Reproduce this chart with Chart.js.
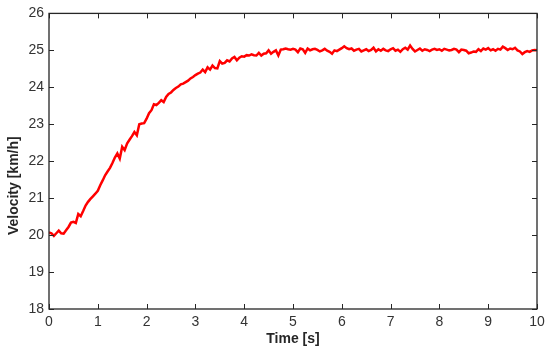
<!DOCTYPE html>
<html>
<head>
<meta charset="utf-8">
<script src="https://cdn.jsdelivr.net/npm/chart.js@4/dist/chart.umd.min.js"></script>
<style>
  body { margin: 0; background: #fff; }
  canvas { display: block; }
</style>
</head>
<body>
<canvas id="chart" width="550" height="353"></canvas>
<script>
// sample spacing in seconds
const timeStep = 0.05;

// velocity samples [km/h], one every timeStep
const velocity = [
  20.07, 20.05, 19.98, 20.05, 20.12, 20.05, 20.04, 20.13, 20.22, 20.34,
  20.36, 20.33, 20.57, 20.51, 20.65, 20.80, 20.90, 20.98, 21.05, 21.12,
  21.20, 21.35, 21.48, 21.62, 21.72, 21.82, 21.95, 22.10, 22.21, 22.07,
  22.39, 22.30, 22.48, 22.58, 22.68, 22.79, 22.70, 23.00, 23.02, 23.03,
  23.15, 23.30, 23.38, 23.54, 23.52, 23.58, 23.65, 23.60, 23.74, 23.82,
  23.86, 23.93, 23.98, 24.02, 24.08, 24.10, 24.14, 24.18, 24.24, 24.28,
  24.33, 24.37, 24.40, 24.48, 24.41, 24.54, 24.48, 24.59, 24.52, 24.51,
  24.71, 24.64, 24.66, 24.73, 24.70, 24.78, 24.82, 24.73, 24.80, 24.84,
  24.83, 24.87, 24.86, 24.89, 24.87, 24.86, 24.93, 24.86, 24.91, 24.92,
  25.00, 24.91, 24.96, 25.00, 24.86, 25.02, 25.03, 25.05, 25.03, 25.02,
  25.04, 25.02, 24.95, 25.05, 25.03, 24.93, 25.05, 25.00, 25.03, 25.04,
  25.01, 24.97, 25.00, 25.04, 24.99, 24.96, 24.91, 25.00, 24.98, 25.02,
  25.06, 25.11, 25.06, 25.03, 25.05, 24.99, 25.02, 25.04, 24.97, 25.00,
  25.03, 24.98, 25.01, 25.07, 24.97, 25.03, 24.99, 25.04, 25.00, 24.98,
  25.03, 25.06, 24.99, 25.02, 24.96, 25.03, 25.07, 25.02, 25.13, 25.04,
  24.97, 25.01, 25.05, 24.99, 25.03, 25.01, 24.98, 25.02, 25.04, 25.01,
  25.03, 24.99, 25.04, 25.02, 25.00, 25.01, 25.04, 25.02, 24.95, 25.02,
  25.01, 24.99, 24.92, 24.94, 24.97, 24.96, 25.03, 24.98, 25.05, 25.02,
  25.06, 25.00, 25.03, 24.99, 25.04, 25.02, 25.10, 25.06, 25.01, 25.05,
  25.03, 25.07, 25.00, 24.97, 24.90, 24.95, 24.98, 24.96, 25.00, 25.01,
  25.00
];

const xTicks = [0, 1, 2, 3, 4, 5, 6, 7, 8, 9, 10];
const yTicks = [18, 19, 20, 21, 22, 23, 24, 25, 26];
const xLabel = 'Time [s]';
const yLabel = 'Velocity [km/h]';

const axisColor = '#262626';
const labelColor = '#333333';
const fontFamily = '"Liberation Sans", Arial, Helvetica, sans-serif';

const points = velocity.map((v, i) => ({ x: +(i * timeStep).toFixed(2), y: v }));

// matlab-style box with inward ticks on all four sides, plus the y label
const boxPlugin = {
  id: 'box',
  afterDatasetsDraw(chart) {
    const { ctx, chartArea: a, scales } = chart;
    const len = 5;
    ctx.save();
    ctx.strokeStyle = axisColor;
    ctx.lineWidth = 1;
    ctx.beginPath();
    xTicks.forEach(t => {
      const px = Math.round(scales.x.getPixelForValue(t)) + 0.5;
      ctx.moveTo(px, a.bottom); ctx.lineTo(px, a.bottom - len);
      ctx.moveTo(px, a.top); ctx.lineTo(px, a.top + len);
    });
    yTicks.forEach(t => {
      const py = Math.round(scales.y.getPixelForValue(t)) + 0.5;
      ctx.moveTo(a.left, py); ctx.lineTo(a.left + len, py);
      ctx.moveTo(a.right, py); ctx.lineTo(a.right - len, py);
    });
    ctx.stroke();
    ctx.lineWidth = 1.3;
    ctx.strokeRect(a.left, a.top, a.right - a.left, a.bottom - a.top);

    // y label sits a bit below the middle of the axis in the original
    ctx.translate(14, scales.y.getPixelForValue(20) - 0);
    ctx.rotate(-Math.PI / 2);
    ctx.fillStyle = axisColor;
    ctx.font = 'bold 14px ' + fontFamily;
    ctx.textAlign = 'left';
    ctx.textBaseline = 'middle';
    ctx.fillText(yLabel, 0, 0);
    ctx.restore();
  }
};

new Chart(document.getElementById('chart'), {
  type: 'line',
  data: {
    datasets: [{
      data: points,
      borderColor: '#ff0000',
      borderWidth: 2.5,
      pointRadius: 0,
      tension: 0,
      fill: false
    }]
  },
  options: {
    responsive: false,
    animation: false,
    layout: { padding: { top: 13, right: 13, left: 0, bottom: 0 } },
    plugins: { legend: { display: false }, tooltip: { enabled: false } },
    scales: {
      x: {
        type: 'linear',
        min: 0, max: 10,
        afterFit(scale) { scale.height = 44; },
        afterBuildTicks(scale) { scale.ticks = xTicks.map(v => ({ value: v })); },
        grid: { display: false, drawTicks: false },
        border: { display: false },
        ticks: { color: labelColor, padding: 5, maxRotation: 0, font: { family: fontFamily, size: 14 } },
        title: {
          display: true, text: xLabel, color: axisColor, padding: { top: 0, bottom: 5 },
          font: { family: fontFamily, size: 14, weight: 'bold' }
        }
      },
      y: {
        min: 18, max: 26,
        afterFit(scale) { scale.width = 49; },
        afterBuildTicks(scale) { scale.ticks = yTicks.map(v => ({ value: v })); },
        grid: { display: false, drawTicks: false },
        border: { display: false },
        ticks: { color: labelColor, padding: 5, font: { family: fontFamily, size: 14 } }
      }
    }
  },
  plugins: [boxPlugin]
});
</script>
</body>
</html>
